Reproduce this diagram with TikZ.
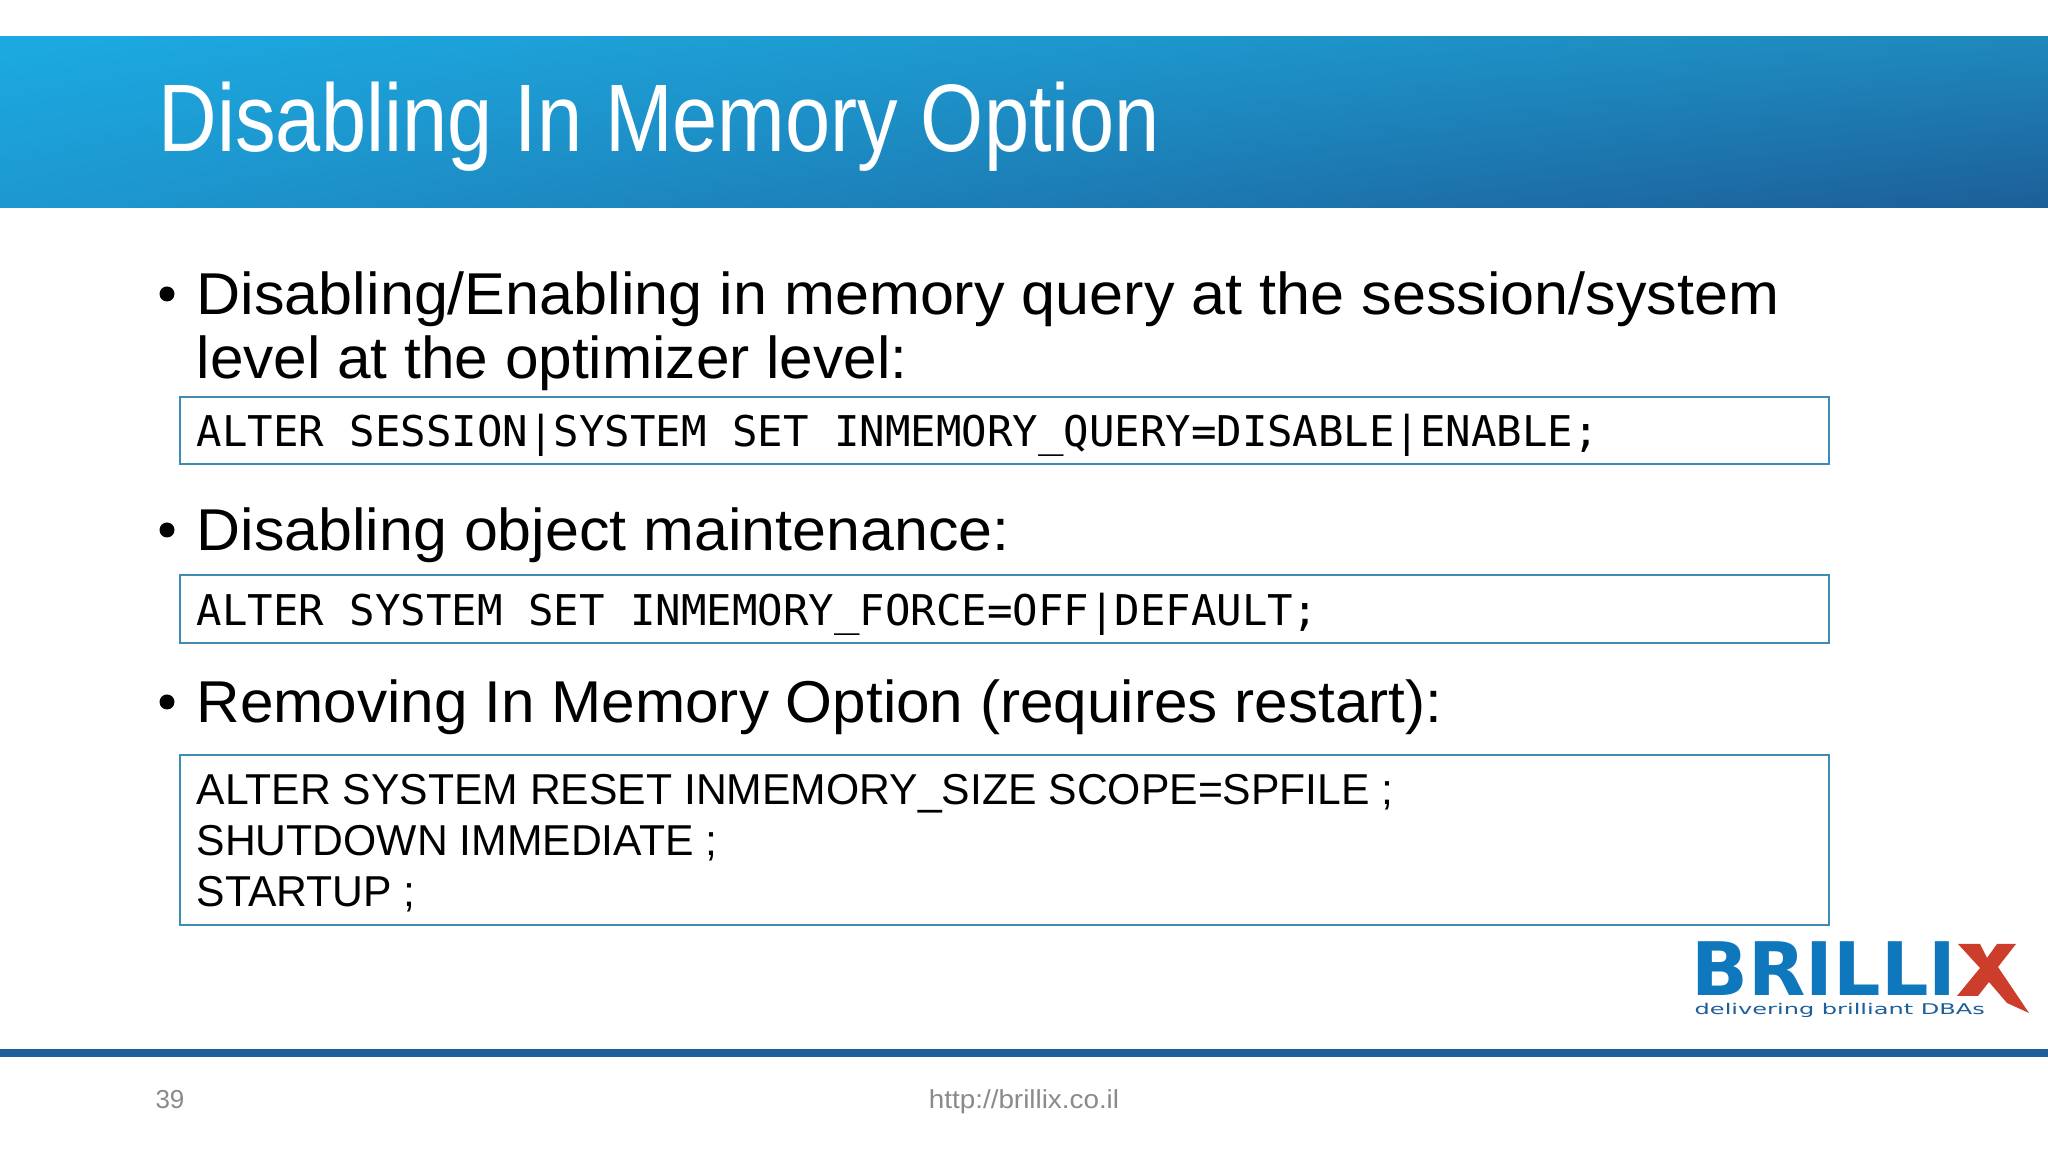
\documentclass[tikz,border=0pt]{standalone}
\usepackage{fontspec}
\usetikzlibrary{shadings}
\setmainfont{Liberation Sans}
\newfontfamily\titlefont[FakeStretch=0.846]{Liberation Sans}
\newfontfamily\bodyfont[FakeStretch=1.035]{Liberation Sans}
\newfontfamily\plainfont[FakeStretch=0.987]{Liberation Sans}
\newfontfamily\codefont{DejaVu Sans Mono}
\newfontfamily\logofont[FakeStretch=1.01]{DejaVu Sans}
\newfontfamily\tagfont[FakeStretch=1.63]{DejaVu Sans}
\newfontfamily\urlfont[FakeStretch=1.07]{Liberation Sans}
\definecolor{bandtl}{HTML}{1CAAE2}
\definecolor{bandbl}{HTML}{1D98D0}
\definecolor{bandtr}{HTML}{1E88BC}
\definecolor{bandbr}{HTML}{1D5E98}
\definecolor{boxblue}{HTML}{3E8CB2}
\definecolor{rulecolor}{HTML}{1E5F99}
\definecolor{logoblue}{HTML}{0F78BD}
\definecolor{logored}{HTML}{CC3D2B}
\definecolor{footgrey}{HTML}{8A8A8A}
\tikzset{
  bullettext/.style={anchor=base west,inner sep=0pt,font=\bodyfont\fontsize{16.8}{17.9}\selectfont,align=left},
  bulletdot/.style={circle,fill=black,inner sep=0pt,minimum size=1.5mm},
  codebox/.style={draw=boxblue,line width=0.5pt,rectangle},
  codetext/.style={anchor=base west,inner sep=0pt,font=\codefont\fontsize{12.05}{14}\selectfont},
  plaintext/.style={anchor=base west,inner sep=0pt,font=\plainfont\fontsize{12.3}{14.6}\selectfont,align=left},
  foot/.style={anchor=base,inner sep=0pt,text=footgrey,font=\fontsize{7.4}{9}\selectfont},
}
\begin{document}
\begin{tikzpicture}
\useasboundingbox (0,0) rectangle (20.48,11.52);
\fill[white] (0,0) rectangle (20.48,11.52);
% header band
\shade[upper left=bandtl,lower left=bandbl,upper right=bandtr,lower right=bandbr] (0,9.44) rectangle (20.48,11.15);
\node[anchor=base west,inner sep=0pt,text=white,font=\titlefont\fontsize{27.3}{30}\selectfont] (title) at (1.58,10) {Disabling In Memory Option};
% bullets
\node[bulletdot] (dot1) at (1.67,8.58) {};
\node[bullettext] (item1) at (1.96,8.37) {Disabling/Enabling in memory query at the session/system};
\node[bullettext,xscale=0.987] (item1b) at (1.96,7.73) {level at the optimizer level:};
\node[bulletdot] (dot2) at (1.67,6.22) {};
\node[bullettext,xscale=0.997] (item2) at (1.96,6.01) {Disabling object maintenance:};
\node[bulletdot] (dot3) at (1.67,4.5) {};
\node[bullettext,xscale=0.986] (item3) at (1.96,4.29) {Removing In Memory Option (requires restart):};
% code boxes
\draw[codebox] (1.8,7.55) rectangle (18.29,6.88);
\node[codetext] (code1) at (1.96,7.05) {ALTER SESSION|SYSTEM SET INMEMORY\_QUERY=DISABLE|ENABLE;};
\draw[codebox] (1.8,5.77) rectangle (18.29,5.09);
\node[codetext] (code2) at (1.96,5.26) {ALTER SYSTEM SET INMEMORY\_FORCE=OFF|DEFAULT;};
\draw[codebox] (1.8,3.97) rectangle (18.29,2.27);
\node[plaintext] (code3) at (1.96,3.47) {ALTER SYSTEM RESET INMEMORY\_SIZE SCOPE=SPFILE ;};
\node[plaintext] (code4) at (1.96,2.96) {SHUTDOWN IMMEDIATE ;};
\node[plaintext] (code5) at (1.96,2.45) {STARTUP ;};
% logo
\node[anchor=base west,inner sep=0pt,text=logoblue,font=\logofont\bfseries\fontsize{21}{24}\selectfont] (logo) at (16.91,1.56) {BRILLI};
\fill[logored] (19.58,2.08) -- (19.80,2.08) -- (19.87,1.94) -- (19.97,2.08) -- (20.16,2.08) -- (19.98,1.85) -- (20.29,1.39) -- (20.07,1.49) -- (19.89,1.70) -- (19.78,1.56) -- (19.57,1.56) -- (19.80,1.84) -- cycle;
\node[anchor=base west,inner sep=0pt,text=rulecolor,font=\tagfont\fontsize{4.2}{5}\selectfont] (tagline) at (16.94,1.37) {delivering brilliant DBAs};
% footer
\fill[rulecolor] (0,0.95) rectangle (20.48,1.03);
\node[foot] (page) at (1.7,0.43) {39};
\node[foot,font=\urlfont\fontsize{7.4}{9}\selectfont] (url) at (10.24,0.43) {http://brillix.co.il};
\end{tikzpicture}
\end{document}
